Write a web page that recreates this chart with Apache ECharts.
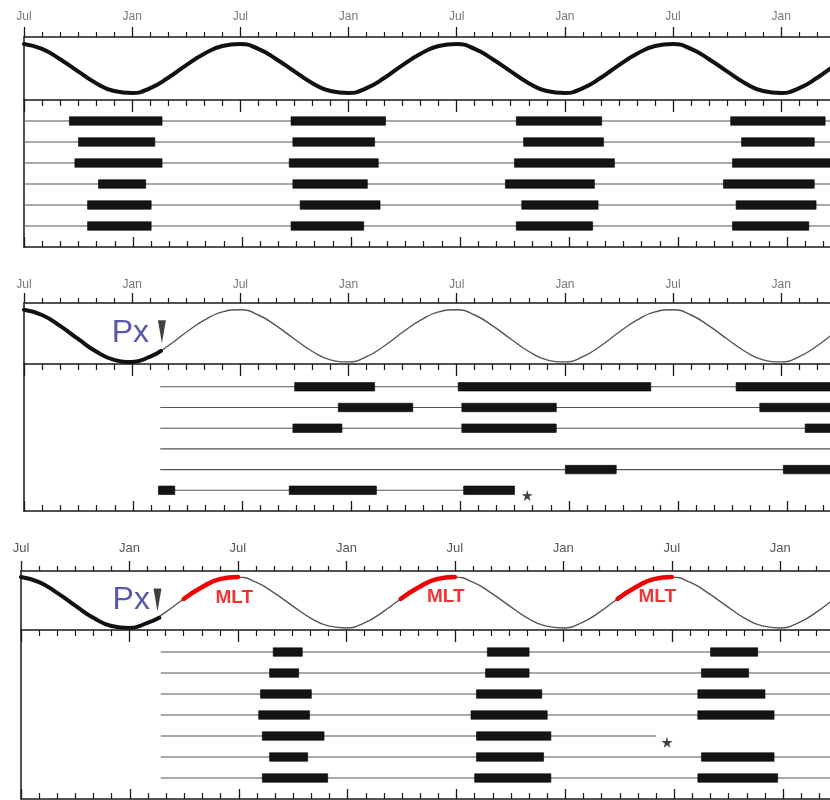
<!DOCTYPE html>
<html><head><meta charset="utf-8">
<script src="https://cdn.jsdelivr.net/npm/echarts@6/dist/echarts.min.js"></script>
<style>html,body{margin:0;padding:0;background:#fff;overflow:hidden}#c{width:900px;height:800px}</style>
</head><body><div id="c"></div>
<script>
// relative day length, one value per month starting at July (month 0)
const dayLength = [1.0,0.9,0.69,0.44,0.2,0.04,0.0,0.1,0.31,0.57,0.8,0.96,
                   1.0,0.9,0.69,0.44,0.2,0.04,0.0,0.1,0.31,0.57,0.8,0.96,
                   1.0,0.9,0.69,0.44,0.2,0.04,0.0,0.1,0.31,0.57,0.8,0.96,
                   1.0,0.9,0.69,0.44,0.2,0.04,0.0,0.1,0.31,0.57,0.8,0.96,
                   1.0];
const tickLabels = ['Jul', 'Jan'];

// activity bars: [start month, end month] per animal row
const panel1Bars = [
  [[2.5,7.6],[14.7,19.9],[27.1,31.8],[38.9,44.1]],
  [[3.0,7.2],[14.8,19.3],[27.5,31.9],[39.5,43.5]],
  [[2.8,7.6],[14.6,19.5],[27.0,32.5],[39.0,45.5]],
  [[4.1,6.7],[14.8,18.9],[26.5,31.4],[38.5,43.5]],
  [[3.5,7.0],[15.2,19.6],[27.4,31.6],[39.2,43.6]],
  [[3.5,7.0],[14.7,18.7],[27.1,31.3],[39.0,43.2]]
];
const panel1Lines = [[0,48],[0,48],[0,48],[0,48],[0,48],[0,48]];

const panel2Bars = [
  [[14.9,19.3],[23.9,34.5],[39.2,48]],
  [[17.3,21.4],[24.1,29.3],[40.5,48]],
  [[14.8,17.5],[24.1,29.3],[43.0,48]],
  [],
  [[29.8,32.6],[41.8,48]],
  [[7.4,8.3],[14.6,19.4],[24.2,27.0]]
];
const panel2Lines = [[7.5,48],[7.5,48],[7.5,48],[7.5,48],[7.5,48],[7.4,27.0]];
const panel2Stars = [[27.7,6.25]];

const panel3Bars = [
  [[13.9,15.5],[25.7,28.0],[38.0,40.6]],
  [[13.7,15.3],[25.6,28.0],[37.5,40.1]],
  [[13.2,16.0],[25.1,28.7],[37.3,41.0]],
  [[13.1,15.9],[24.8,29.0],[37.3,41.5]],
  [[13.3,16.7],[25.1,29.2]],
  [[13.7,15.8],[25.1,28.8],[37.5,41.5]],
  [[13.3,16.9],[25.0,29.2],[37.3,41.7]]
];
const panel3Lines = [[7.7,48],[7.7,48],[7.7,48],[7.7,48],[7.7,35.0],[7.7,48],[7.7,48]];
const panel3Stars = [[35.6,5.3]];

// pinealectomy (Px) marks and melatonin (MLT) periods
const pxPanel2 = {label:[5.9,0.56], arrow:[7.65,0.58], thickEnd:[7.6,0.21]};
const pxPanel3 = {label:[6.1,0.55], arrow:[7.55,0.55], thickEnd:[7.65,0.2]};
const mltRanges = [[9,12],[21,24],[33,36]];
const mltLabels = [[11.8,0.59],[23.5,0.61],[35.2,0.61]];

const FONT = 'Liberation Sans, Arial, sans-serif';
const INK = '#1a1a1a';
const panels = [
  {left:24, right:4, sTop:37, sH:63, bTop:100, bH:147, sMin:-0.143, sMax:1.143, bMin:0, bMax:7, lm:14, ls:12, lc:'#777'},
  {left:24, right:4, sTop:303, sH:61, bTop:364, bH:147, sMin:-0.04, sMax:1.13, bMin:-0.1, bMax:7, lm:12, ls:12, lc:'#777'},
  {left:21, right:8, sTop:571, sH:59, bTop:630, bH:169, sMin:-0.04, sMax:1.12, bMin:-0.05, bMax:8, lm:16, ls:13, lc:'#555'}
];

const grid = [], xAxis = [], yAxis = [], series = [];
function baseX(gi, pos, opts) {
  return Object.assign({
    type:'value', gridIndex:gi, position:pos, min:0, max:48, interval:6,
    axisLine:{show:true, onZero:false, lineStyle:{color:INK, width:1.5}},
    axisTick:{show:true, inside:false, length:10, lineStyle:{color:INK, width:1.3}},
    minorTick:{show:true, splitNumber:6, length:5, lineStyle:{color:INK, width:1.2}},
    splitLine:{show:false}, minorSplitLine:{show:false},
    axisLabel:{show:false}
  }, opts);
}
panels.forEach((p, i) => {
  grid.push({left:p.left, right:p.right, top:p.sTop, height:p.sH});
  grid.push({left:p.left, right:p.right, top:p.bTop, height:p.bH});
  xAxis.push(baseX(2*i, 'top', {
    axisLabel:{show:true, margin:p.lm, color:p.lc, fontSize:p.ls, fontFamily:FONT,
      formatter: v => (v % 12 === 0 ? tickLabels[0] : (v % 6 === 0 ? tickLabels[1] : ''))}
  }));
  xAxis.push(baseX(2*i, 'bottom', {axisTick:{show:true, inside:false, length:12, lineStyle:{color:INK, width:1.3}},
    minorTick:{show:true, splitNumber:6, length:6, lineStyle:{color:INK, width:1.2}}}));
  xAxis.push(baseX(2*i+1, 'bottom', {axisTick:{show:true, inside:true, length:10, lineStyle:{color:INK, width:1.3}},
    minorTick:{show:true, splitNumber:6, length:6, lineStyle:{color:INK, width:1.2}}}));
  yAxis.push({type:'value', gridIndex:2*i, min:p.sMin, max:p.sMax,
    axisLine:{show:true, onZero:false, lineStyle:{color:INK, width:1.5}}, axisTick:{show:false}, axisLabel:{show:false}, splitLine:{show:false}});
  yAxis.push({type:'value', gridIndex:2*i+1, min:p.bMin, max:p.bMax, inverse:true,
    axisLine:{show:true, onZero:false, lineStyle:{color:INK, width:1.5}}, axisTick:{show:false}, axisLabel:{show:false}, splitLine:{show:false}});
});

const curve = dayLength.map((v, m) => [m, v]);
function sine(i, data, color, width, z) {
  return {type:'line', xAxisIndex:3*i, yAxisIndex:2*i, data:data, smooth:0.5, showSymbol:false,
    symbol:'none', silent:true, z:z||2, lineStyle:{color:color, width:width, cap:'round'}};
}
function rowLines(i, lines) {
  return {type:'custom', xAxisIndex:3*i+2, yAxisIndex:2*i+1, clip:true, silent:true, z:2,
    data: lines.map((l, r) => [l[0], l[1], r+1]),
    renderItem:(params, api) => {
      const a = api.coord([api.value(0), api.value(2)]);
      const b = api.coord([api.value(1), api.value(2)]);
      return {type:'line', shape:{x1:a[0], y1:a[1], x2:b[0], y2:b[1]}, style:{stroke:'#555', lineWidth:1.1}};
    }};
}
function bars(i, rows) {
  const data = [];
  rows.forEach((row, r) => row.forEach(b => data.push([b[0], b[1], r+1])));
  return {type:'custom', xAxisIndex:3*i+2, yAxisIndex:2*i+1, clip:true, silent:true, z:3, data:data,
    renderItem:(params, api) => {
      const a = api.coord([api.value(0), api.value(2)]);
      const b = api.coord([api.value(1), api.value(2)]);
      const h = 8.5;
      return {type:'rect', shape:{x:a[0], y:a[1]-h/2, width:b[0]-a[0], height:h},
        style:{fill:'#141414', stroke:'#000', lineWidth:0.6}};
    }};
}
const STAR = 'path://M50,0 L61,35 L98,35 L68,57 L79,91 L50,70 L21,91 L32,57 L2,35 L39,35 Z';
function stars(i, pts) {
  return {type:'scatter', xAxisIndex:3*i+2, yAxisIndex:2*i+1, data:pts, symbol:STAR, symbolSize:11,
    silent:true, z:4, itemStyle:{color:'#111'}};
}
function pxMarks(i, px) {
  return [
    sine(i, curve.slice(0, 8).concat([px.thickEnd]), '#111', 4, 3),
    {type:'scatter', xAxisIndex:3*i, yAxisIndex:2*i, data:[px.arrow], symbol:'triangle', symbolRotate:180,
      symbolSize:[8, 23], silent:true, z:4, itemStyle:{color:'#111'}},
    {type:'scatter', xAxisIndex:3*i, yAxisIndex:2*i, data:[px.label], symbolSize:1, silent:true, z:5,
      itemStyle:{color:'rgba(0,0,0,0)'},
      label:{show:true, position:'inside', formatter:'Px', color:'#2d2d9c', fontSize:32, fontFamily:FONT}}
  ];
}

// panel 1
series.push(sine(0, curve, '#111', 4));
series.push(rowLines(0, panel1Lines));
series.push(bars(0, panel1Bars));
// panel 2
series.push(sine(1, curve, '#555', 1.4));
series.push(...pxMarks(1, pxPanel2));
series.push(rowLines(1, panel2Lines));
series.push(bars(1, panel2Bars));
series.push(stars(1, panel2Stars));
// panel 3
series.push(sine(2, curve, '#555', 1.4));
series.push(...pxMarks(2, pxPanel3));
mltRanges.forEach(r => series.push(sine(2, curve.slice(r[0], r[1]+1), '#f00000', 4.5, 4)));
series.push({type:'scatter', xAxisIndex:6, yAxisIndex:4, data:mltLabels, symbolSize:1, silent:true, z:5,
  itemStyle:{color:'rgba(0,0,0,0)'},
  label:{show:true, position:'inside', formatter:'MLT', color:'#f00000', fontSize:19, fontWeight:'bold', fontFamily:FONT}});
series.push(rowLines(2, panel3Lines));
series.push(bars(2, panel3Bars));
series.push(stars(2, panel3Stars));

const chart = echarts.init(document.getElementById('c'));
chart.setOption({animation:false, backgroundColor:'#fff', grid, xAxis, yAxis, series});
</script>
</body></html>
